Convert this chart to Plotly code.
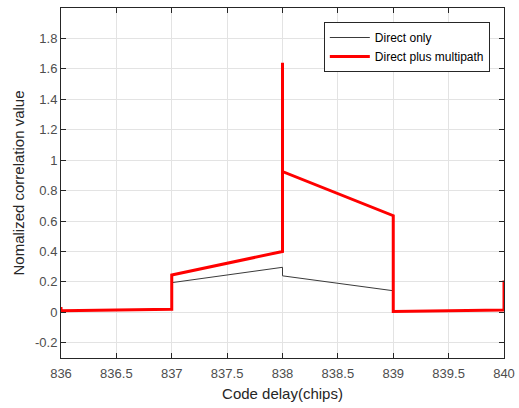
import plotly.graph_objects as go

# Data
direct_x = [836, 837, 837, 838, 838, 839, 839, 840]
direct_y = [0.01, 0.02, 0.195, 0.296, 0.24, 0.142, 0.005, 0.015]

multi_x = [836, 836, 837, 837, 838, 838, 838, 839, 839, 840, 840]
multi_y = [0.035, 0.01, 0.02, 0.245, 0.40, 1.64, 0.925, 0.635, 0.005, 0.015, 0.21]

x_ticks = [836, 836.5, 837, 837.5, 838, 838.5, 839, 839.5, 840]
x_labels = ["836", "836.5", "837", "837.5", "838", "838.5", "839", "839.5", "840"]
y_ticks = [-0.2, 0, 0.2, 0.4, 0.6, 0.8, 1, 1.2, 1.4, 1.6, 1.8]
y_labels = ["-0.2", "0", "0.2", "0.4", "0.6", "0.8", "1", "1.2", "1.4", "1.6", "1.8"]

FONT = "Liberation Sans, Arial, sans-serif"

fig = go.Figure()
fig.add_trace(go.Scatter(x=direct_x, y=direct_y, mode="lines", name="Direct only",
                         line=dict(color="#3a3a3a", width=1)))
fig.add_trace(go.Scatter(x=multi_x, y=multi_y, mode="lines", name="Direct plus multipath",
                         line=dict(color="#ff0000", width=3)))

axis_common = dict(showline=True, linecolor="#262626", linewidth=1, mirror="ticks",
                   ticks="inside", ticklen=5, tickcolor="#262626", automargin=False,
                   showgrid=True, gridcolor="#e3e3e3", gridwidth=1, zeroline=False,
                   tickfont=dict(family=FONT, size=13, color="#4d4d4d"))

fig.update_xaxes(range=[836, 840], tickvals=x_ticks, ticktext=x_labels,
                 ticklabelstandoff=3,
                 title=dict(text="Code delay(chips)", standoff=8,
                            font=dict(family=FONT, size=15, color="#262626")),
                 **axis_common)
fig.update_yaxes(range=[-0.3, 2.0], tickvals=y_ticks, ticktext=y_labels,
                 title=dict(text="Nomalized correlation value", standoff=6,
                            font=dict(family=FONT, size=15, color="#262626")),
                 **axis_common)

fig.update_layout(
    width=519, height=408,
    margin=dict(l=61, r=15, t=8, b=50),
    plot_bgcolor="white", paper_bgcolor="white",
    showlegend=True,
    legend=dict(x=0.968, y=0.96, xanchor="right", yanchor="top",
                bgcolor="white", bordercolor="#262626", borderwidth=1,
                font=dict(family=FONT, size=12, color="#000000"),
                tracegroupgap=0, itemwidth=40),
)

fig.write_html("out.html", config={"displayModeBar": False},
               post_script="document.body.style.margin='0';document.body.style.padding='0';")
